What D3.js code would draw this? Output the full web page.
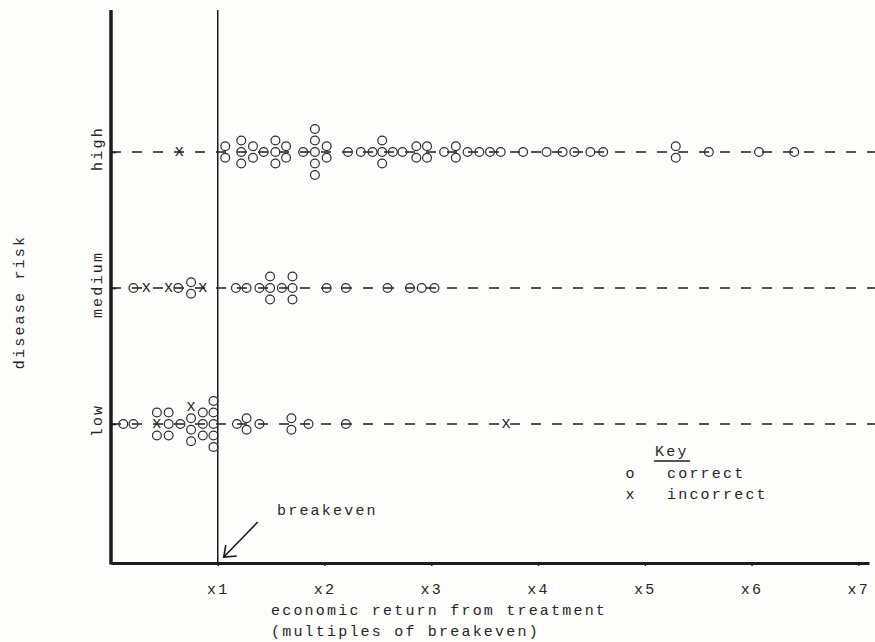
<!DOCTYPE html>
<html>
<head>
<meta charset="utf-8">
<script src="https://cdn.jsdelivr.net/npm/d3@7"></script>
<style>
  html, body { margin: 0; padding: 0; background: #fdfdfb; }
  svg text { font-family: "Liberation Mono", "DejaVu Sans Mono", monospace; fill: #262626; }
</style>
</head>
<body>
<div id="chart"></div>
<script>
// --- DATA ---
// risk levels (bottom to top) and x axis tick values (multiples of breakeven)
const riskLevels = ["low", "medium", "high"];
const xTicks = [1, 2, 3, 4, 5, 6, 7];

// each value is one response; repeated values are stacked vertically
const highCorrect = [1.07, 1.07, 1.22, 1.22, 1.22, 1.33, 1.33, 1.43, 1.54, 1.54, 1.54,
  1.64, 1.64, 1.80, 1.91, 1.91, 1.91, 1.91, 1.91, 2.02, 2.02, 2.22, 2.34, 2.45,
  2.54, 2.54, 2.54, 2.64, 2.73, 2.86, 2.86, 2.96, 2.96, 3.12, 3.23, 3.23, 3.34,
  3.45, 3.55, 3.65, 3.86, 4.08, 4.23, 4.34, 4.49, 4.61, 5.29, 5.29, 5.60, 6.07, 6.40];
const highIncorrect = [0.64];

const mediumCorrect = [0.21, 0.63, 0.75, 0.75, 1.17, 1.27, 1.39, 1.49, 1.49, 1.49,
  1.60, 1.70, 1.70, 1.70, 2.02, 2.20, 2.59, 2.80, 2.91, 3.03];
const mediumIncorrect = [0.33, 0.54, 0.86];

const lowCorrect = [0.115, 0.21, 0.43, 0.43, 0.54, 0.54, 0.54, 0.65, 0.75, 0.75, 0.75,
  0.86, 0.86, 0.86, 0.96, 0.96, 0.96, 0.96, 0.96, 1.18, 1.27, 1.27, 1.39, 1.69, 1.69,
  1.85, 2.20];
const lowIncorrect = [0.43, 0.75, 3.70];

const legendItems = [
  {symbol: "o", label: "correct"},
  {symbol: "x", label: "incorrect"}
];

// --- SETUP ---
const width = 875, height = 642;
const stackGap = 11.5;
const ink = "#1c1c1c";

const svg = d3.select("#chart").append("svg")
  .attr("width", width)
  .attr("height", height)
  .style("display", "block");

const xScale = d3.scaleLinear().domain([0, 7.1]).range([111, 869]);
const yScale = d3.scalePoint().domain(riskLevels).range([424, 152]);
const plotTop = 10, plotBottom = 563;

// build the list of markers, stacked around the row line
const rows = {
  high: {correct: highCorrect, incorrect: highIncorrect},
  medium: {correct: mediumCorrect, incorrect: mediumIncorrect},
  low: {correct: lowCorrect, incorrect: lowIncorrect}
};
const markers = [];
riskLevels.forEach(risk => {
  const all = rows[risk].correct.map(v => ({risk, value: v, kind: "correct"}))
    .concat(rows[risk].incorrect.map(v => ({risk, value: v, kind: "incorrect"})));
  const groups = d3.group(all, d => d.value.toFixed(3));
  groups.forEach(items => {
    const ok = items.filter(d => d.kind === "correct");
    const bad = items.filter(d => d.kind === "incorrect");
    const n = items.length;
    // odd stacks keep the cross in the middle, even stacks put it on top
    const ordered = ok.slice();
    ordered.splice(n % 2 ? Math.floor((n - 1) / 2) : 0, 0, ...bad);
    ordered.forEach((d, k) => {
      d.offset = (k - (n - 1) / 2) * stackGap;
      markers.push(d);
    });
  });
});

// --- ROW LINES (dashed) ---
svg.append("g").selectAll("line")
  .data(riskLevels)
  .join("line")
  .attr("x1", xScale(0))
  .attr("x2", width)
  .attr("y1", d => yScale(d))
  .attr("y2", d => yScale(d))
  .attr("stroke", ink)
  .attr("stroke-width", 1.6)
  .attr("stroke-dasharray", "10,11");

// --- AXES ---
const xAxis = svg.append("g")
  .attr("transform", "translate(0," + plotBottom + ")")
  .call(d3.axisBottom(xScale).tickValues(xTicks).tickFormat(d => "x" + d)
    .tickSize(3).tickSizeOuter(0).tickPadding(17));
xAxis.select(".domain").attr("stroke", ink).attr("stroke-width", 3);
xAxis.selectAll(".tick line").attr("stroke", ink).attr("stroke-width", 1.5);
xAxis.selectAll(".tick text")
  .attr("font-size", 15)
  .attr("letter-spacing", 2.2)
  .style("font-family", "'Liberation Mono', monospace")
  .attr("fill", "#262626");

const yAxis = svg.append("g")
  .attr("transform", "translate(" + xScale(0) + ",0)")
  .call(d3.axisLeft(yScale).tickSize(-5).tickSizeOuter(0));
yAxis.select(".domain").remove();
yAxis.selectAll(".tick line").attr("stroke", ink).attr("stroke-width", 1.5);
yAxis.selectAll(".tick text")
  .attr("transform", "rotate(-90)")
  .attr("x", 4)
  .attr("y", -9.5)
  .attr("dy", 0)
  .attr("text-anchor", "middle")
  .attr("font-size", 15)
  .attr("letter-spacing", 2.2)
  .style("font-family", "'Liberation Mono', monospace")
  .attr("fill", "#262626");

// thick left axis line
svg.append("line")
  .attr("x1", xScale(0)).attr("x2", xScale(0))
  .attr("y1", plotTop).attr("y2", plotBottom + 1.5)
  .attr("stroke", ink).attr("stroke-width", 3.5);

// breakeven line
svg.append("line")
  .attr("x1", xScale(1)).attr("x2", xScale(1))
  .attr("y1", plotTop).attr("y2", plotBottom)
  .attr("stroke", ink).attr("stroke-width", 1.5);

// --- MARKERS ---
const markG = svg.append("g");
markG.selectAll("circle")
  .data(markers.filter(d => d.kind === "correct"))
  .join("circle")
  .attr("cx", d => xScale(d.value))
  .attr("cy", d => yScale(d.risk) + d.offset)
  .attr("r", 4.4)
  .attr("fill", "none")
  .attr("stroke", "#2e2e2e")
  .attr("stroke-width", 1.2);
markG.selectAll("text")
  .data(markers.filter(d => d.kind === "incorrect"))
  .join("text")
  .attr("x", d => xScale(d.value))
  .attr("y", d => yScale(d.risk) + d.offset)
  .attr("dy", "0.28em")
  .attr("text-anchor", "middle")
  .attr("font-size", 16)
  .attr("fill", "#111")
  .text("x");

// --- AXIS TITLES ---
svg.append("text")
  .attr("transform", "translate(24,302) rotate(-90)")
  .attr("text-anchor", "middle")
  .attr("font-size", 15)
  .attr("letter-spacing", 2.2)
  .text("disease risk");

svg.append("text")
  .attr("x", 271).attr("y", 615)
  .attr("font-size", 15)
  .attr("letter-spacing", 2.2)
  .text("economic return from treatment");
svg.append("text")
  .attr("x", 271).attr("y", 636)
  .attr("font-size", 15)
  .attr("letter-spacing", 2.2)
  .text("(multiples of breakeven)");

// --- BREAKEVEN ANNOTATION ---
svg.append("text")
  .attr("x", 277).attr("y", 515)
  .attr("font-size", 15)
  .attr("letter-spacing", 2.2)
  .text("breakeven");

const tipX = xScale(1) + 6, tipY = plotBottom - 6;
svg.append("path")
  .attr("d", "M" + (tipX + 34) + "," + (tipY - 35) + "L" + tipX + "," + tipY
    + "M" + (tipX + 2) + "," + (tipY - 12) + "L" + tipX + "," + tipY + "L" + (tipX + 13) + "," + (tipY - 1))
  .attr("fill", "none")
  .attr("stroke", ink)
  .attr("stroke-width", 1.6);

// --- KEY ---
const key = svg.append("g");
key.append("text")
  .attr("x", 655).attr("y", 456)
  .attr("font-size", 15)
  .attr("letter-spacing", 2.2)
  .text("Key");
key.append("line")
  .attr("x1", 654).attr("x2", 690)
  .attr("y1", 461).attr("y2", 461)
  .attr("stroke", ink).attr("stroke-width", 1.3);
key.selectAll(".keyRow")
  .data(legendItems)
  .join("g")
  .attr("class", "keyRow")
  .attr("transform", (d, i) => "translate(0," + (478 + i * 21) + ")")
  .each(function(d) {
    const g = d3.select(this);
    g.append("text").attr("x", 630).attr("text-anchor", "middle")
      .attr("font-size", 15).text(d.symbol);
    g.append("text").attr("x", 667).attr("font-size", 15)
      .attr("letter-spacing", 2.2).text(d.label);
  });
</script>
</body>
</html>
